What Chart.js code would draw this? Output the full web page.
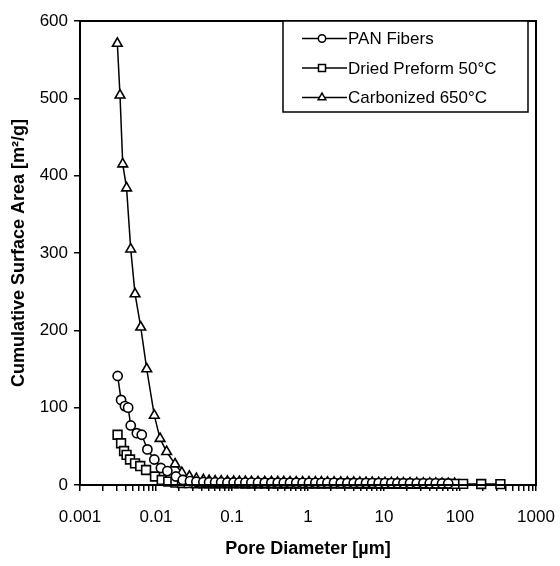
<!DOCTYPE html>
<html>
<head>
<meta charset="utf-8">
<script src="https://cdn.jsdelivr.net/npm/chart.js@4/dist/chart.umd.min.js"></script>
<style>
  html, body { margin: 0; padding: 0; background: #fff; }
  #wrap { width: 560px; height: 566px; position: relative; }
</style>
</head>
<body>
<div id="wrap"><canvas id="c" width="560" height="566"></canvas></div>
<script>
// ---- data ----
const xTickLabels = ['0.001', '0.01', '0.1', '1', '10', '100', '1000'];
const yTickLabels = ['0', '100', '200', '300', '400', '500', '600'];
const seriesNames = ['PAN Fibers', 'Dried Preform 50°C', 'Carbonized 650°C'];

const panDiameter = [0.00313,0.00347,0.0039,0.0043,0.00465,0.0056,0.0065,0.0077,0.0095,0.0116,0.0141,0.0183,0.0225,0.028,0.034,0.042,0.05,0.06,0.072,0.087,0.105,0.125,0.15,0.18,0.22,0.27,0.33,0.4,0.48,0.58,0.7,0.85,1.03,1.25,1.5,1.8,2.2,2.7,3.3,4,4.8,5.8,7,8.5,10.3,12.5,15,18,22,27,33,40,48,58,70];
const panArea = [141,110,102,100,77,67,65,46,33,22,18,11,6.5,5,4.2,3.8,3.6,3.5,3.4,3.3,3.3,3.2,3.2,3.1,3.1,3.0,3.0,3.0,2.9,2.9,2.9,2.8,2.8,2.8,2.7,2.7,2.7,2.6,2.6,2.6,2.5,2.5,2.5,2.4,2.4,2.4,2.3,2.3,2.3,2.2,2.2,2.1,2.1,2.0,2.0];

const driedDiameter = [0.00312,0.00347,0.0038,0.0041,0.00455,0.0053,0.0062,0.0074,0.0097,0.0119,0.0145,0.018,0.022,0.027,0.034,0.042,0.05,0.06,0.072,0.087,0.105,0.125,0.15,0.18,0.22,0.27,0.33,0.4,0.48,0.58,0.7,0.85,1.03,1.25,1.5,1.8,2.2,2.7,3.3,4,4.8,5.8,7,8.5,10.3,12.5,15,18,22,27,33,40,48,58,70,85,110,190,340];
const driedArea = [65,54,44,39,33,28,24.5,19.4,11,6.5,4.3,3.0,2.6,2.4,2.3,2.3,2.2,2.2,2.2,2.1,2.1,2.1,2.0,2.0,2.0,2.0,1.9,1.9,1.9,1.9,1.8,1.8,1.8,1.8,1.8,1.7,1.7,1.7,1.7,1.7,1.6,1.6,1.6,1.6,1.6,1.6,1.5,1.5,1.5,1.5,1.5,1.5,1.4,1.4,1.4,1.4,1.4,1.3,1.2];

const carbDiameter = [0.0031,0.00336,0.00365,0.0041,0.00465,0.0053,0.0063,0.00755,0.0095,0.0113,0.0138,0.0178,0.0219,0.0275,0.034,0.042,0.05,0.06,0.072,0.087,0.105,0.125,0.15,0.18,0.22,0.27,0.33,0.4,0.48,0.58,0.7,0.85,1.03,1.25,1.5,1.8,2.2,2.7,3.3,4,4.8,5.8,7,8.5,10.3,12.5,15,18,22,27,33,40,48,58,70,85];
const carbArea = [571,504,415,384,305,247,204,150,90,60,43,27,16,11,8,6.5,5.6,5.0,4.8,4.6,4.4,4.3,4.2,4.1,4.0,3.9,3.9,3.8,3.8,3.7,3.7,3.6,3.6,3.5,3.5,3.4,3.4,3.3,3.3,3.2,3.1,3.0,2.9,2.8,2.7,2.6,2.5,2.4,2.3,2.2,2.1,2.0,1.9,1.8,1.7,1.6];

// ---- build ----
const FONT = "'Liberation Sans', Arial, Helvetica, sans-serif";
const pairs = (xs, ys) => xs.map((x, i) => ({ x: x, y: ys[i] }));

const styles = [
  { pointStyle: 'circle', radius: 4.6 },
  { pointStyle: 'rect', radius: 6.2 },
  { pointStyle: 'triangle', radius: 5.6 }
];
const dataSets = [pairs(panDiameter, panArea), pairs(driedDiameter, driedArea), pairs(carbDiameter, carbArea)];

const datasets = dataSets.map((d, i) => ({
  label: seriesNames[i],
  data: d,
  showLine: true,
  borderColor: '#000',
  borderWidth: 1.5,
  tension: 0,
  pointStyle: styles[i].pointStyle,
  pointRadius: styles[i].radius,
  pointBorderWidth: 1.6,
  pointBorderColor: '#000',
  pointBackgroundColor: '#fff',
  clip: false
}));

const majorVals = xTickLabels.map(Number);
const yVals = yTickLabels.map(Number);

function drawMarker(ctx, style, x, y, r) {
  ctx.beginPath();
  if (style === 'circle') {
    ctx.arc(x, y, r, 0, Math.PI * 2);
  } else if (style === 'rect') {
    const s = r * Math.SQRT1_2;
    ctx.rect(x - s, y - s, 2 * s, 2 * s);
  } else {
    const a = Math.PI / 2;
    for (let k = 0; k < 3; k++) {
      const ang = -a + k * 2 * Math.PI / 3;
      const px = x + r * Math.cos(ang), py = y + r * Math.sin(ang);
      if (k === 0) ctx.moveTo(px, py); else ctx.lineTo(px, py);
    }
    ctx.closePath();
  }
  ctx.fillStyle = '#fff';
  ctx.fill();
  ctx.stroke();
}

const framePlugin = {
  id: 'frame',
  afterDraw(chart) {
    const { ctx, chartArea: a } = chart;
    ctx.save();
    ctx.strokeStyle = '#000';
    ctx.lineWidth = 2;
    ctx.strokeRect(a.left, a.top, a.right - a.left, a.bottom - a.top);

    // legend box
    const bx = 283, by = a.top, bw = 528 - 283, bh = 112 - a.top;
    ctx.fillStyle = '#fff';
    ctx.fillRect(bx, by, bw, bh);
    ctx.lineWidth = 1.5;
    ctx.strokeRect(bx, by, bw, bh);
    const rowsY = [38.5, 68, 97.5];
    chart.data.datasets.forEach((ds, i) => {
      const y = rowsY[i];
      ctx.lineWidth = 1.5;
      ctx.strokeStyle = '#000';
      ctx.beginPath();
      ctx.moveTo(302, y);
      ctx.lineTo(347, y);
      ctx.stroke();
      drawMarker(ctx, ds.pointStyle, 322, y, ds.pointRadius * 0.8);
      ctx.fillStyle = '#000';
      ctx.font = '17px ' + FONT;
      ctx.textBaseline = 'middle';
      ctx.textAlign = 'left';
      ctx.fillText(ds.label, 348, y + 1);
    });
    ctx.restore();
  }
};

new Chart(document.getElementById('c'), {
  type: 'scatter',
  data: { datasets: datasets },
  options: {
    responsive: false,
    animation: false,
    devicePixelRatio: 1,
    layout: { padding: { left: 0, right: 24, top: 21, bottom: 0 } },
    plugins: { legend: { display: false }, tooltip: { enabled: false } },
    scales: {
      x: {
        type: 'logarithmic',
        min: majorVals[0],
        max: majorVals[majorVals.length - 1],
        afterFit(s) { s.height = 81; s.paddingLeft = 0; s.paddingRight = 0; },
        afterBuildTicks(s) {
          const t = [];
          for (let i = 0; i < majorVals.length; i++) {
            t.push({ value: majorVals[i] });
            if (i < majorVals.length - 1) {
              for (let m = 2; m <= 9; m++) t.push({ value: majorVals[i] * m });
            }
          }
          s.ticks = t;
        },
        ticks: {
          autoSkip: false,
          maxRotation: 0,
          minRotation: 0,
          padding: 16,
          color: '#000',
          font: { family: FONT, size: 17 },
          callback(v) {
            const idx = majorVals.findIndex(m => Math.abs(m - v) / m < 1e-6);
            return idx >= 0 ? xTickLabels[idx] : '';
          }
        },
        grid: { display: true, drawOnChartArea: false, drawTicks: true, tickLength: 6, color: '#000', lineWidth: 1.5 },
        border: { display: true, color: '#000', width: 2 },
        title: {
          display: true,
          text: 'Pore Diameter [µm]',
          color: '#000',
          font: { family: FONT, size: 18, weight: 'bold', lineHeight: 1.2 },
          padding: { top: 0, bottom: 6 }
        }
      },
      y: {
        min: yVals[0],
        max: yVals[yVals.length - 1],
        afterFit(s) { s.width = 80; s.paddingTop = 0; s.paddingBottom = 0; },
        afterBuildTicks(s) { s.ticks = yVals.map(v => ({ value: v })); },
        ticks: {
          padding: 6,
          color: '#000',
          font: { family: FONT, size: 17 },
          callback(v) {
            const idx = yVals.indexOf(v);
            return idx >= 0 ? yTickLabels[idx] : '';
          }
        },
        grid: { display: true, drawOnChartArea: false, drawTicks: true, tickLength: 6, color: '#000', lineWidth: 1.5 },
        border: { display: true, color: '#000', width: 2 },
        title: {
          display: true,
          text: 'Cumulative Surface Area [m²/g]',
          color: '#000',
          font: { family: FONT, size: 18, weight: 'bold', lineHeight: 1.2 },
          padding: { top: 8, bottom: 0 }
        }
      }
    }
  },
  plugins: [framePlugin]
});
</script>
</body>
</html>
